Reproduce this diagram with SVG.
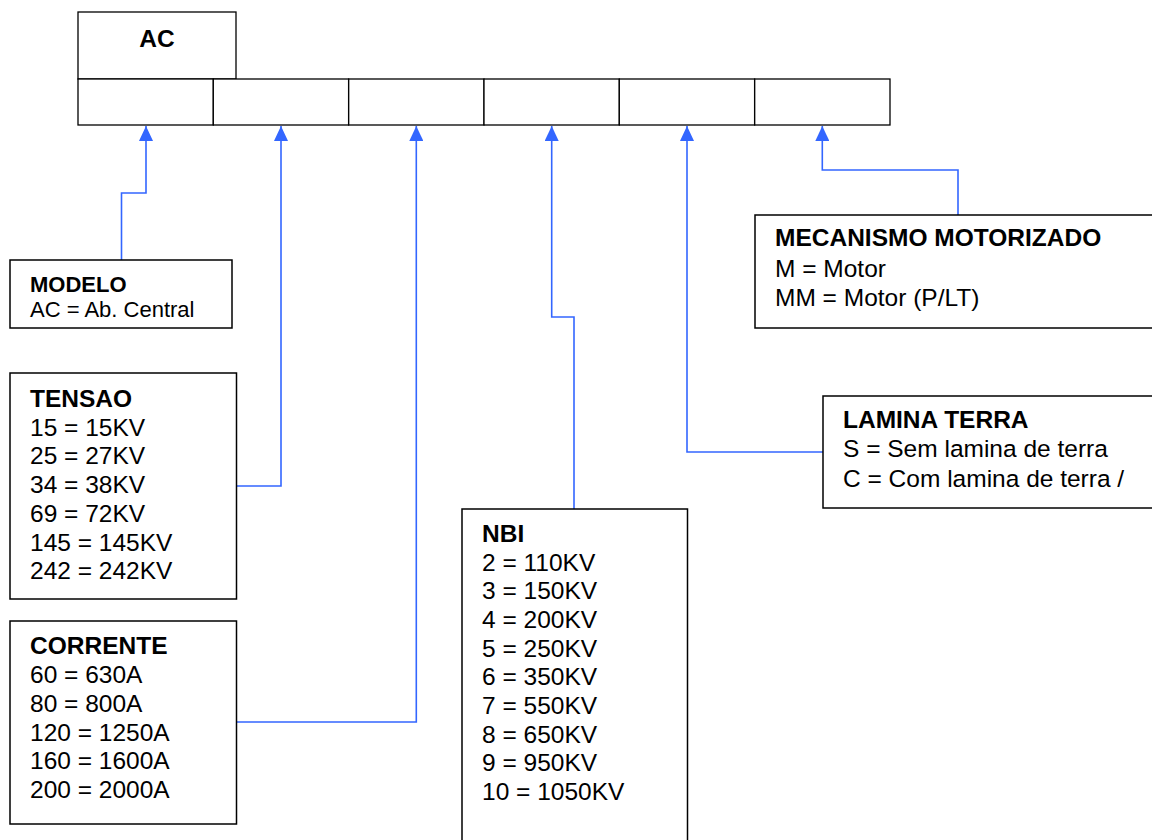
<svg xmlns="http://www.w3.org/2000/svg" width="1152" height="840" viewBox="0 0 1152 840">
<style>
.box{fill:#fff;stroke:#000;stroke-width:1.5}
.cell{fill:#fff;stroke:#000;stroke-width:1.3}
.t{font-family:"Liberation Sans",Arial,sans-serif;font-size:24.5px;fill:#000}
.s{font-size:22px}
.b{font-weight:bold}
.c{fill:none;stroke:#3366ff;stroke-width:1.6}
.ah{fill:#3366ff}
</style>
<defs>
<marker id="arr" markerWidth="14" markerHeight="15" refX="7" refY="0" orient="0" markerUnits="userSpaceOnUse" viewBox="0 0 14 15">
<path d="M7 0 L14 15 L0 15 Z" class="ah"/>
</marker>
</defs>
<rect width="1152" height="840" fill="#fff"/>
<g id="code">
<rect class="cell" x="78" y="12" width="158" height="67"/>
<text class="t b" x="157" y="47" text-anchor="middle">AC</text>
<rect class="cell" x="78" y="79" width="135.3" height="46"/>
<rect class="cell" x="213.3" y="79" width="135.3" height="46"/>
<rect class="cell" x="348.7" y="79" width="135.3" height="46"/>
<rect class="cell" x="484" y="79" width="135.3" height="46"/>
<rect class="cell" x="619.3" y="79" width="135.3" height="46"/>
<rect class="cell" x="754.7" y="79" width="135.3" height="46"/>
</g>
<g id="connectors">
<path class="c" d="M121.5 260 V193 H146 V126" marker-end="url(#arr)"/>
<path class="c" d="M236 486 H281 V126" marker-end="url(#arr)"/>
<path class="c" d="M236 722 H416.3 V126" marker-end="url(#arr)"/>
<path class="c" d="M574 509 V317 H551.7 V126" marker-end="url(#arr)"/>
<path class="c" d="M823 452 H687 V126" marker-end="url(#arr)"/>
<path class="c" d="M958 215 V170 H822.3 V126" marker-end="url(#arr)"/>
</g>
<g id="modelo">
<rect class="box" x="10" y="260" width="222" height="68"/>
<text class="t s b" x="30" y="292">MODELO</text>
<text class="t s" x="30" y="317">AC = Ab. Central</text>
</g>
<g id="tensao">
<rect class="box" x="10" y="373" width="226.5" height="226"/>
<text class="t b" x="30" y="407">TENSAO</text>
<text class="t" x="30" y="435.5">15 = 15KV</text>
<text class="t" x="30" y="464.3">25 = 27KV</text>
<text class="t" x="30" y="493">34 = 38KV</text>
<text class="t" x="30" y="521.8">69 = 72KV</text>
<text class="t" x="30" y="550.5">145 = 145KV</text>
<text class="t" x="30" y="579.3">242 = 242KV</text>
</g>
<g id="corrente">
<rect class="box" x="10" y="621" width="226.5" height="203"/>
<text class="t b" x="30" y="654">CORRENTE</text>
<text class="t" x="30" y="683">60 = 630A</text>
<text class="t" x="30" y="711.8">80 = 800A</text>
<text class="t" x="30" y="740.6">120 = 1250A</text>
<text class="t" x="30" y="769.4">160 = 1600A</text>
<text class="t" x="30" y="798.2">200 = 2000A</text>
</g>
<g id="nbi">
<rect class="box" x="462" y="509" width="225.5" height="345"/>
<text class="t b" x="482" y="541.7">NBI</text>
<text class="t" x="482" y="570.5">2 = 110KV</text>
<text class="t" x="482" y="599.2">3 = 150KV</text>
<text class="t" x="482" y="627.9">4 = 200KV</text>
<text class="t" x="482" y="656.6">5 = 250KV</text>
<text class="t" x="482" y="685.3">6 = 350KV</text>
<text class="t" x="482" y="714">7 = 550KV</text>
<text class="t" x="482" y="742.7">8 = 650KV</text>
<text class="t" x="482" y="771.4">9 = 950KV</text>
<text class="t" x="482" y="800.1">10 = 1050KV</text>
</g>
<g id="lamina">
<rect class="box" x="823" y="396" width="340" height="112"/>
<text class="t b" x="843" y="428.3">LAMINA TERRA</text>
<text class="t" x="843" y="457.3">S = Sem lamina de terra</text>
<text class="t" x="843" y="486.5">C = Com lamina de terra /</text>
</g>
<g id="mecanismo">
<rect class="box" x="755" y="215" width="410" height="113"/>
<text class="t b" x="775" y="246">MECANISMO MOTORIZADO</text>
<text class="t" x="775" y="276.5">M = Motor</text>
<text class="t" x="775" y="306">MM = Motor (P/LT)</text>
</g>
</svg>
